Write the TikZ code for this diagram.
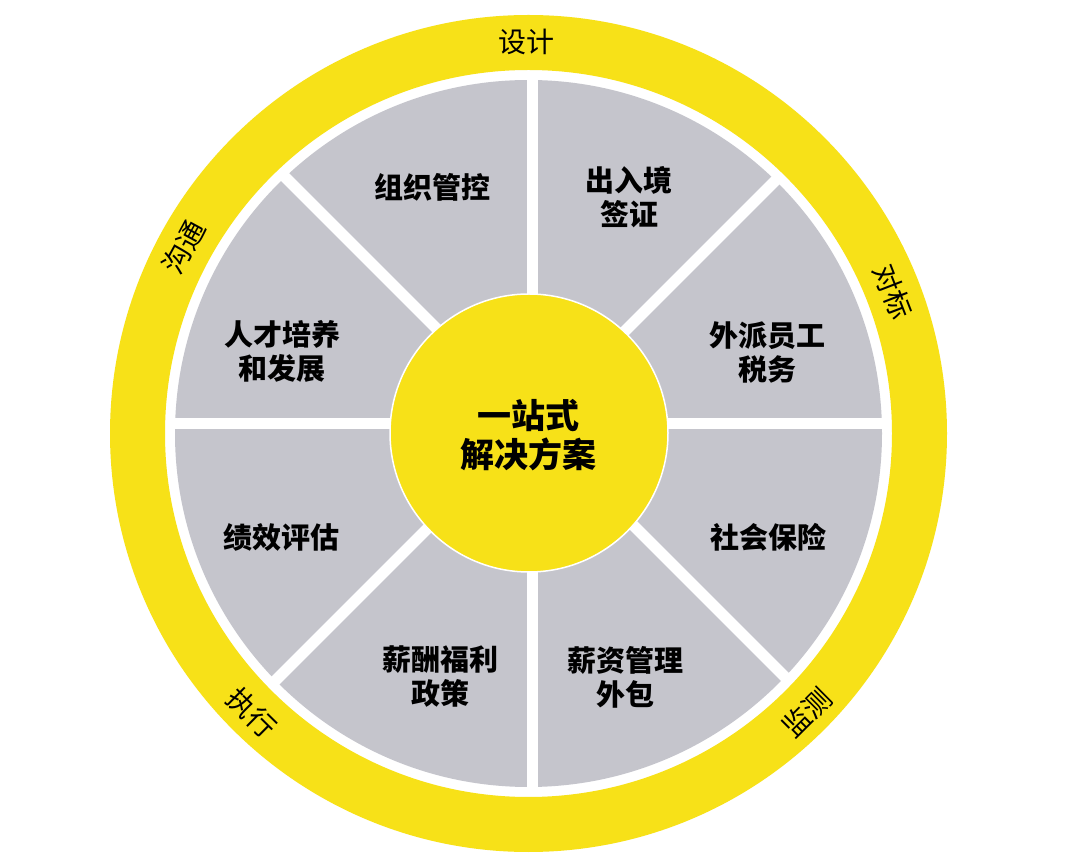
\documentclass[tikz,border=0pt]{standalone}
\usepackage{fontspec}
\usetikzlibrary{calc}
\newfontfamily\cjk{Noto Sans CJK SC}
\definecolor{ringyellow}{RGB}{247,225,24}
\definecolor{sectorgrey}{RGB}{197,197,204}
\begin{document}
\begin{tikzpicture}[x=1pt,y=1pt,
  seclabel/.style={font=\cjk\bfseries\fontsize{29}{34}\selectfont, align=center, text=black, inner sep=0pt},
  hublabel/.style={font=\cjk\bfseries\fontsize{34}{39}\selectfont, align=center, text=black, inner sep=0pt},
  ringlabel/.style={font=\cjk\fontsize{28}{28}\selectfont, text=black, inner sep=0pt},
  gapline/.style={white, line width=11pt}]
\useasboundingbox (0,0) rectangle (1080,863);
\fill[white] (0,0) rectangle (1080,863);
\coordinate (O) at (528.5,429.5);
\coordinate (X) at (532,439);
% outer yellow ring
\fill[ringyellow, even odd rule] (O) circle (418.5) (O) circle (363.5);
% grey disk
\fill[sectorgrey] (O) circle (353.5);
% white gaps between sectors
\begin{scope}
  \clip (O) circle (358);
  \foreach \a in {0,45,...,315} \draw[gapline] (X) -- ++(\a:430);
\end{scope}
% hub
\node[circle, fill=ringyellow, draw=white, line width=1.5pt, minimum size=278pt, inner sep=0pt] (hub) at (529,430) {};
\node[hublabel] (hubtext) at (528,428) {一站式\\解决方案};
% sector labels
\node[seclabel] (s1) at (432,676) {组织管控};
\node[seclabel] (s2) at (629,665.5) {出入境\\签证};
\node[seclabel] (s3) at (282,512) {人才培养\\和发展};
\node[seclabel] (s4) at (767,511) {外派员工\\税务};
\node[seclabel] (s5) at (281,326) {绩效评估};
\node[seclabel] (s6) at (768,326) {社会保险};
\node[seclabel] (s7) at (440,186) {薪酬福利\\政策};
\node[seclabel] (s8) at (625,186) {薪资管理\\外包};
% ring labels
\node[ringlabel] (r1) at (526.5,821) {设计};
\node[ringlabel, rotate=61.6] (r2) at ($(O)+(151.6:392)$) {沟通};
\node[ringlabel, rotate=-68.8] (r3) at ($(O)+(21.2:391)$) {对标};
\node[ringlabel, rotate=-44.7] (r4) at ($(O)+(225.3:393)$) {执行};
\node[ringlabel, rotate=44.9] (r5) at ($(O)+(-45.1:394)$) {监测};
\end{tikzpicture}
\end{document}
